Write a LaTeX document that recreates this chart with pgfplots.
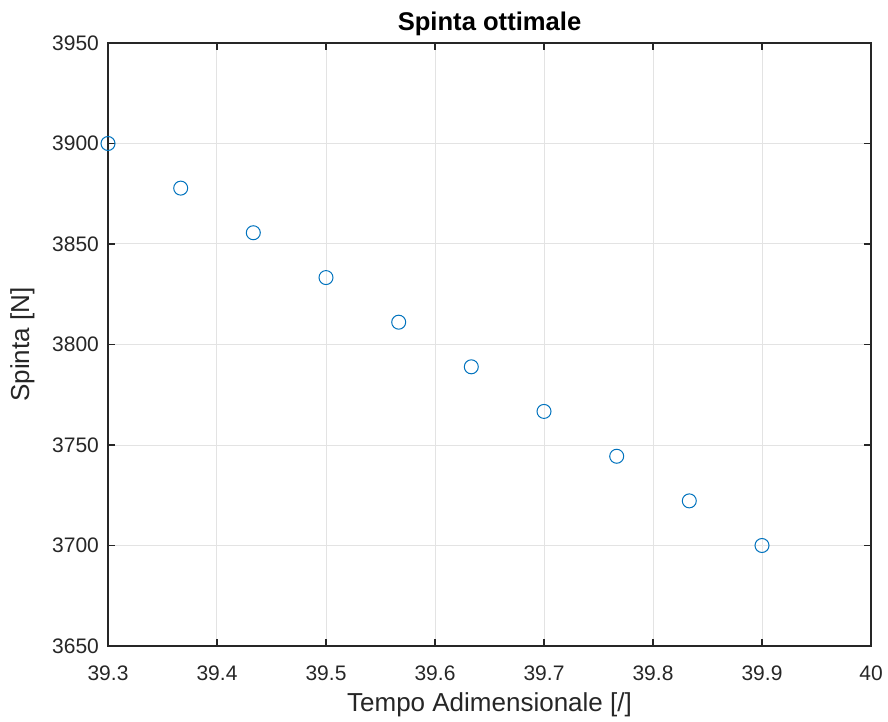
\documentclass[border=0pt]{standalone}
\usepackage{pgfplots}
\pgfplotsset{compat=1.18}
\usepackage{fontspec}
\setmainfont{Liberation Sans}
\definecolor{mblue}{rgb}{0,0.447,0.741}
\definecolor{axgray}{rgb}{0.15,0.15,0.15}
\begin{document}
\begin{tikzpicture}
\path[use as bounding box] (-54pt,-38pt) rectangle (390pt,323pt);
\begin{axis}[
  at={(0,0)}, anchor=south west,
  scale only axis,
  width=381.5pt, height=301.5pt,
  xmin=39.3, xmax=40, ymin=3650, ymax=3950,
  xtick={39.3,39.4,...,40.0},
  ytick={3650,3700,...,3950},
  /pgf/number format/assume math mode=true,
  xticklabel style={/pgf/number format/fixed,/pgf/number format/precision=1, yshift=-6.5pt},
  yticklabel style={/pgf/number format/fixed,/pgf/number format/1000 sep={}, xshift=-1pt},
  tick label style={font=\fontsize{10.5}{12}\selectfont, text=axgray},
  grid=major,
  major grid style={gray!22, line width=0.5pt},
  axis line style={axgray, line width=0.6pt},
  tick style={axgray, line width=0.6pt},
  major tick length=3.5pt,
  tick align=inside,
  xtick pos=both, ytick pos=both,
  title={\textbf{Spinta ottimale}},
  title style={font=\fontsize{12.8}{14}\selectfont, yshift=-6pt},
  xlabel={Tempo Adimensionale [/]},
  ylabel={Spinta [N]},
  label style={font=\fontsize{13}{15}\selectfont, text=axgray},
  xlabel style={yshift=1pt},
  ylabel style={yshift=2pt},
]
\addplot[only marks, mark=o, mark size=3.5pt, color=mblue, line width=0.5pt] coordinates {
  (39.3000,3900.0)
  (39.3667,3877.8)
  (39.4333,3855.6)
  (39.5000,3833.3)
  (39.5667,3811.1)
  (39.6333,3788.9)
  (39.7000,3766.7)
  (39.7667,3744.4)
  (39.8333,3722.2)
  (39.9000,3700.0)
};
\end{axis}
\end{tikzpicture}
\end{document}
